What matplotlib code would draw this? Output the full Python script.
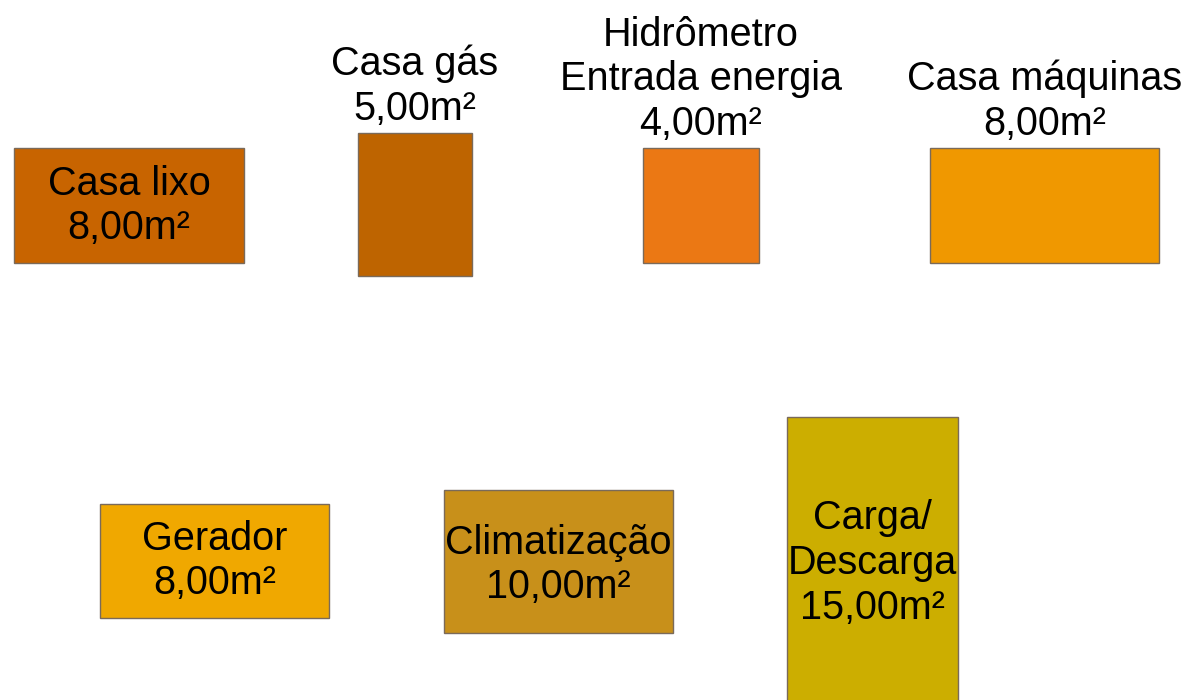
import matplotlib.pyplot as plt
from matplotlib.patches import Rectangle

plt.rcParams["font.family"] = ["Liberation Sans", "DejaVu Sans"]

# ambientes e areas (m²)
nomes = ["Casa lixo", "Casa gás", "Hidrômetro\nEntrada energia", "Casa máquinas",
         "Gerador", "Climatização", "Carga/\nDescarga"]
areas = [8.0, 5.0, 4.0, 8.0, 8.0, 10.0, 15.0]
cores = ["#C86400", "#BE6400", "#EB7814", "#F09800",
         "#F0A800", "#C8901A", "#CCAE00"]

# layout em pixels: x, y (topo), largura, altura
caixas = [
    (14, 148, 230, 115),
    (358, 133, 114, 143),
    (643, 148, 116, 115),
    (930, 148, 229, 115),
    (100, 504, 229, 114),
    (444, 490, 229, 143),
    (787, 417, 171, 300),
]
rotulo_dentro = [True, False, False, False, True, True, True]
texto_y = [206, None, None, None, 561, 565, 563]


def fmt_area(a):
    return f"{a:.2f}".replace(".", ",") + "m²"


fig = plt.figure(figsize=(11.89, 7.0), dpi=100)
ax = fig.add_axes([0, 0, 1, 1])
ax.set_xlim(0, 1189)
ax.set_ylim(700, 0)
ax.axis("off")

for nome, area, cor, (x, y, w, h), dentro, ty in zip(
        nomes, areas, cores, caixas, rotulo_dentro, texto_y):
    ax.add_patch(Rectangle((x, y), w, h, facecolor=cor,
                           edgecolor="#7a6a5a", linewidth=1.0))
    txt = nome + "\n" + fmt_area(area)
    if dentro:
        ax.text(x + w / 2, ty, txt, ha="center", va="center",
                fontsize=28.5, linespacing=1.22, color="black")
    else:
        ax.text(x + w / 2, y - 5, txt, ha="center", va="bottom",
                fontsize=28.5, linespacing=1.22, color="black")

fig.savefig("out.png", dpi=100)
